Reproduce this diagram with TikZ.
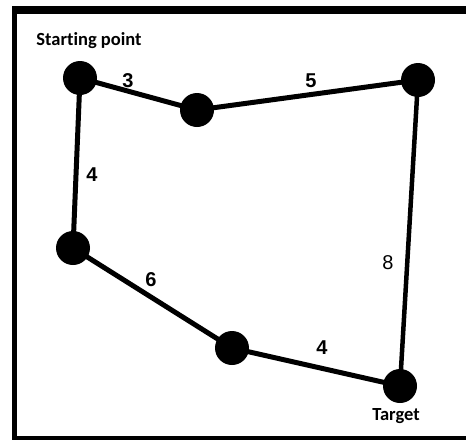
\documentclass[tikz,border=0pt]{standalone}
\usepackage{fontspec}
\setmainfont{Liberation Sans}
\newfontfamily\calib[Ligatures=NoCommon]{Carlito}
\begin{document}
\begin{tikzpicture}[x=1pt,y=-1pt,
  vertex/.style={circle,fill=black,draw=none,minimum size=34pt,inner sep=0pt},
  edge/.style={line width=5pt,black},
  wlabel/.style={font=\fontsize{20}{20}\selectfont\bfseries,inner sep=0pt},
  wlabelr/.style={font=\fontsize{20}{20}\selectfont,inner sep=0pt},
  caption/.style={font=\calib\fontsize{18.5}{18.5}\selectfont\bfseries,inner sep=0pt,anchor=base}]
\useasboundingbox (0,0) rectangle (466,440);
\fill[white] (0,0) rectangle (466,440);
% frame
\fill[black] (12,6) rectangle (466,14);
\fill[black] (12,6) rectangle (17,440);
\fill[black] (12,436) rectangle (466,440);
% vertices
\node[vertex] (A) at (80,78) {};
\node[vertex] (B) at (197,110) {};
\node[vertex] (C) at (418,80) {};
\node[vertex] (D) at (73,248) {};
\node[vertex] (E) at (232,348) {};
\node[vertex] (F) at (400,386) {};
% edges
\draw[edge] (A.center) -- (B.center);
\draw[edge] (B.center) -- (C.center);
\draw[edge] (A.center) -- (D.center);
\draw[edge] (D.center) -- (E.center);
\draw[edge] (E.center) -- (F.center);
\draw[edge,line width=4.5pt] (C.center) -- (F.center);
% weights
\node[wlabel] (w1) at (128,81) {3};
\node[wlabel] (w2) at (311,81) {5};
\node[wlabel] (w3) at (92,175) {4};
\node[wlabelr] (w4) at (388,263) {8};
\node[wlabel] (w5) at (151,280) {6};
\node[wlabel] (w6) at (322,348) {4};
% captions
\node[caption] (s) at (89,45) {Starting point};
\node[caption] (t) at (396,420) {Target};
\end{tikzpicture}
\end{document}
